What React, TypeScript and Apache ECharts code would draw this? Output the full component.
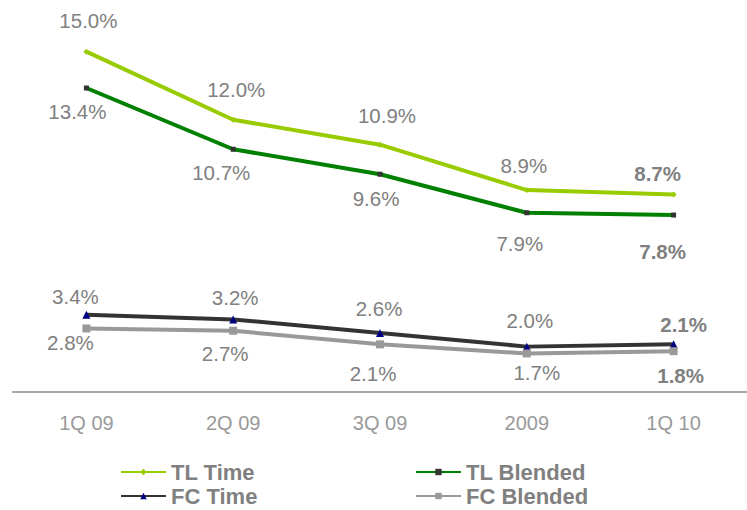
import React, { useEffect, useRef } from "react";
import * as echarts from "echarts";

const categories = ["1Q 09", "2Q 09", "3Q 09", "2009", "1Q 10"];
const tlTime = [15.0, 12.0, 10.9, 8.9, 8.7];
const tlBlended = [13.4, 10.7, 9.6, 7.9, 7.8];
const fcTime = [3.4, 3.2, 2.6, 2.0, 2.1];
const fcBlended = [2.8, 2.7, 2.1, 1.7, 1.8];

// label offsets (layout only) relative to each point
const tlTimeOff = [[2, -31], [3, -30], [7, -29], [-3, -25], [-16, -21]];
const tlBlendedOff = [[-9, 24], [-12, 23], [-4, 24], [-7, 31], [-11, 36]];
const fcTimeOff = [[-11, -18], [2, -22], [-1, -25], [3, -26], [10, -20]];
const fcBlendedOff = [[-16, 14], [-8, 23], [-7, 29], [10, 19], [7, 24]];

const FONT = "'Liberation Sans', Arial, sans-serif";

function buildData(values: number[], offs: number[][]) {
  return values.map((v, i) => ({
    value: v,
    label: {
      show: true,
      position: "inside",
      offset: offs[i],
      formatter: v.toFixed(1) + "%",
      fontWeight: i === values.length - 1 ? "bold" : "normal",
    },
  }));
}

export default function App() {
  const ref = useRef<HTMLDivElement>(null);
  useEffect(() => {
    document.body.style.margin = "0";
    const chart = echarts.init(ref.current!, null, { renderer: "svg" });
    const labelBase = {
      color: "#808080",
      fontSize: 20.5,
      fontFamily: FONT,
    };
    const mk = (
      name: string,
      values: number[],
      offs: number[][],
      lineColor: string,
      symColor: string,
      symbol: string,
      symbolSize: number
    ) => ({
      name,
      type: "line",
      data: buildData(values, offs),
      symbol,
      symbolSize,
      showAllSymbol: true,
      lineStyle: { color: lineColor, width: 4 },
      itemStyle: { color: symColor },
      label: { ...labelBase },
      emphasis: { disabled: true },
      z: 2,
    });
    const legendText = {
      fontSize: 22,
      fontWeight: "bold",
      color: "#808080",
      fontFamily: FONT,
      lineHeight: 24,
    };
    const mkLegend = (name: string, left: number, top: number) => ({
      data: [name],
      left,
      top,
      padding: 0,
      itemWidth: 45,
      itemHeight: 8,
      itemGap: 0,
      textStyle: legendText,
      selectedMode: false,
    });
    chart.setOption({
      animation: false,
      grid: { left: 13, top: 29, width: 750, height: 363 },
      xAxis: {
        type: "category",
        data: categories,
        boundaryGap: true,
        axisLine: { show: true, lineStyle: { color: "#a6a6a6", width: 2 } },
        axisTick: { show: false },
        axisLabel: {
          color: "#999999",
          fontSize: 20,
          fontFamily: FONT,
          margin: 21,
        },
      },
      yAxis: {
        type: "value",
        min: 0,
        max: 16,
        show: false,
        splitLine: { show: false },
      },
      legend: [
        mkLegend("TL Time", 120, 460),
        mkLegend("TL Blended", 415, 460),
        mkLegend("FC Time", 120, 484),
        mkLegend("FC Blended", 415, 484),
      ],
      series: [
        mk("TL Time", tlTime, tlTimeOff, "#99cc00", "#99cc00", "diamond", 6),
        mk("TL Blended", tlBlended, tlBlendedOff, "#008000", "#333333", "rect", 5),
        mk("FC Time", fcTime, fcTimeOff, "#333333", "#000080", "triangle", 8),
        mk("FC Blended", fcBlended, fcBlendedOff, "#999999", "#999999", "rect", 8),
      ],
    });
    return () => chart.dispose();
  }, []);
  return <div ref={ref} style={{ width: 747, height: 510 }} />;
}
